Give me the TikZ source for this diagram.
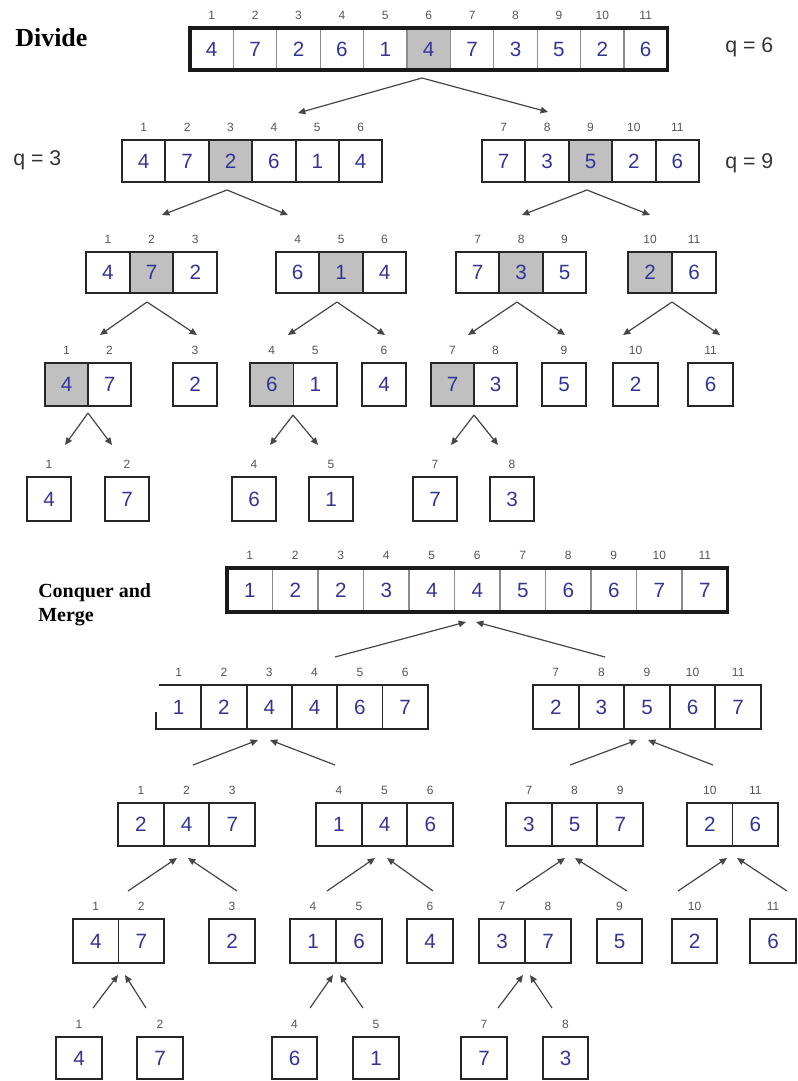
\documentclass[tikz,border=0pt]{standalone}
\usepackage{fontspec}
\setmainfont{Liberation Serif}
\newfontfamily\arial{Liberation Sans}
\usetikzlibrary{arrows.meta}
\definecolor{numblue}{RGB}{52,52,150}
\definecolor{idxgray}{RGB}{85,85,85}
\definecolor{shadegray}{RGB}{192,192,192}
\definecolor{linegray}{RGB}{70,70,70}
\tikzset{
  cellbase/.style={rectangle, inner sep=0pt, outer sep=0pt, font=\arial\fontsize{15.5}{16}\selectfont, text=numblue},
  cell/.style={cellbase, draw=black!85, line width=1.4pt},
  topcell/.style={cellbase, draw=black!45, line width=0.8pt},
  outline/.style={draw=black!90, line width=2.3pt},
  edge/.style={draw=black!85, line width=1.4pt},
  idx/.style={font=\arial\fontsize{9}{10}\selectfont, text=idxgray, inner sep=0pt},
  cpl/.style={}, csh/.style={fill=shadegray}, col/.style={draw=none},
  arr/.style={draw=linegray, line width=0.9pt, -{Triangle[length=5.5pt,width=4.8pt]}},
  title/.style={font=\bfseries\fontsize{19.5}{21}\selectfont, anchor=west, inner sep=0pt},
  titleb/.style={font=\bfseries\fontsize{15}{18}\selectfont, anchor=west, inner sep=0pt, align=left},
  qlab/.style={font=\arial\fontsize{16}{18}\selectfont, text=black!80, anchor=west, inner sep=0pt},
}
% #1 style, #2 name, #3 x left, #4 y top, #5 cell width, #6 height, #7 value/label/cellstyle list
\newcommand\cellrow[7]{%
  \foreach \v/\l/\f [count=\i] in {#7} {%
    \node[#1, \f, minimum width=#5*0.75pt, minimum height=#6*0.75pt] (#2-\i) at ({#3+(\i-0.5)*#5},{#4+#6/2}) {\v};
    \node[idx] (#2-n\i) at ({#3+(\i-0.5)*#5},{#4-13}) {\l};
  }}
% split arrows: name, apex, left tip, right tip
\newcommand\splitarr[4]{%
  \coordinate (#1-a) at (#2); \coordinate (#1-l) at (#3); \coordinate (#1-r) at (#4);
  \draw[arr] (#1-a) -- (#1-l); \draw[arr] (#1-a) -- (#1-r);}
% join arrows: name, start1, tip1, start2, tip2
\newcommand\joinarr[5]{%
  \coordinate (#1-s1) at (#2); \coordinate (#1-t1) at (#3);
  \coordinate (#1-s2) at (#4); \coordinate (#1-t2) at (#5);
  \draw[arr] (#1-s1) -- (#1-t1); \draw[arr] (#1-s2) -- (#1-t2);}
\begin{document}
\begin{tikzpicture}[x=0.75pt,y=-0.75pt]
\useasboundingbox (0,0) rectangle (798,1081);
% ---------- Divide ----------
\node[title] (divide) at (15,38) {Divide};
\node[qlab] (q6) at (725,47) {q = 6};
\node[qlab] (q3) at (13,160) {q = 3};
\node[qlab] (q9) at (725,163) {q = 9};

\cellrow{topcell}{d1}{190}{28}{43.4}{42}{4/1/cpl,7/2/cpl,2/3/cpl,6/4/cpl,1/5/cpl,4/6/csh,7/7/cpl,3/8/cpl,5/9/cpl,2/10/cpl,6/11/cpl}
\draw[outline] (d1-1.north west) rectangle (d1-11.south east);

\cellrow{cell}{d2a}{122}{140}{43.4}{42}{4/1/cpl,7/2/cpl,2/3/csh,6/4/cpl,1/5/cpl,4/6/cpl}
\cellrow{cell}{d2b}{482}{140}{43.4}{42}{7/7/cpl,3/8/cpl,5/9/csh,2/10/cpl,6/11/cpl}

\cellrow{cell}{d3a}{86}{252}{43.7}{41}{4/1/cpl,7/2/csh,2/3/cpl}
\cellrow{cell}{d3b}{276}{252}{43.4}{41}{6/4/cpl,1/5/csh,4/6/cpl}
\cellrow{cell}{d3c}{456}{252}{43.4}{41}{7/7/cpl,3/8/csh,5/9/cpl}
\cellrow{cell}{d3d}{628}{252}{44}{41}{2/10/csh,6/11/cpl}

\cellrow{cell}{d4a}{45}{363}{43}{43}{4/1/csh,7/2/cpl}
\cellrow{cell}{d4b}{173}{363}{44}{43}{2/3/cpl}
\cellrow{cell}{d4c}{250}{363}{43.5}{43}{6/4/csh,1/5/cpl}
\cellrow{cell}{d4d}{362}{363}{44}{43}{4/6/cpl}
\cellrow{cell}{d4e}{431}{363}{43}{43}{7/7/csh,3/8/cpl}
\cellrow{cell}{d4f}{542}{363}{44}{43}{5/9/cpl}
\cellrow{cell}{d4g}{613}{363}{45}{43}{2/10/cpl}
\cellrow{cell}{d4h}{688}{363}{45}{43}{6/11/cpl}

\cellrow{cell}{d5a}{27}{477}{44}{44}{4/1/cpl}
\cellrow{cell}{d5b}{105}{477}{44}{44}{7/2/cpl}
\cellrow{cell}{d5c}{232}{477}{44}{44}{6/4/cpl}
\cellrow{cell}{d5d}{309}{477}{44}{44}{1/5/cpl}
\cellrow{cell}{d5e}{413}{477}{44}{44}{7/7/cpl}
\cellrow{cell}{d5f}{490}{477}{44}{44}{3/8/cpl}

\splitarr{A1}{422,78}{298,113}{548,112}
\splitarr{A2L}{227,190}{162,215}{288,215}
\splitarr{A2R}{587,190}{522,215}{650,215}
\splitarr{A3a}{147,302}{100,335}{197,335}
\splitarr{A3b}{337,302}{288,335}{385,335}
\splitarr{A3c}{517,302}{468,335}{565,335}
\splitarr{A3d}{672,302}{623,335}{720,335}
\splitarr{A4a}{88,413}{65,445}{112,445}
\splitarr{A4b}{293,415}{270,445}{318,445}
\splitarr{A4c}{474,415}{451,445}{498,445}

% ---------- Conquer and Merge ----------
\node[titleb] (conquer) at (38,605) {Conquer and\\Merge};

\cellrow{topcell}{m1}{227}{568}{45.5}{44}{1/1/cpl,2/2/cpl,2/3/cpl,3/4/cpl,4/5/cpl,4/6/cpl,5/7/cpl,6/8/cpl,6/9/cpl,7/10/cpl,7/11/cpl}
\draw[outline] (m1-1.north west) rectangle (m1-11.south east);

\cellrow{cell}{m2a}{156}{685}{45.3}{44}{1/1/col,2/2/cpl,4/3/cpl,4/4/cpl,6/5/cpl,7/6/cpl}
\draw[edge] ([xshift=2pt]m2a-1.north west) -- (m2a-1.north east);
\draw[edge] ([yshift=12.75pt]m2a-1.south west) -- (m2a-1.south west) -- (m2a-1.south east);
\cellrow{cell}{m2b}{533}{685}{45.6}{44}{2/7/cpl,3/8/cpl,5/9/cpl,6/10/cpl,7/11/cpl}

\cellrow{cell}{m3a}{118}{803}{45.7}{43}{2/1/cpl,4/2/cpl,7/3/cpl}
\cellrow{cell}{m3b}{316}{803}{45.7}{43}{1/4/cpl,4/5/cpl,6/6/cpl}
\cellrow{cell}{m3c}{506}{803}{45.7}{43}{3/7/cpl,5/8/cpl,7/9/cpl}
\cellrow{cell}{m3d}{687}{803}{45.5}{43}{2/10/cpl,6/11/cpl}

\cellrow{cell}{m4a}{73}{919}{45.5}{44}{4/1/cpl,7/2/cpl}
\cellrow{cell}{m4b}{209}{919}{46}{44}{2/3/cpl}
\cellrow{cell}{m4c}{290}{919}{46}{44}{1/4/cpl,6/5/cpl}
\cellrow{cell}{m4d}{407}{919}{46}{44}{4/6/cpl}
\cellrow{cell}{m4e}{479}{919}{46}{44}{3/7/cpl,7/8/cpl}
\cellrow{cell}{m4f}{597}{919}{45}{44}{5/9/cpl}
\cellrow{cell}{m4g}{672}{919}{45}{44}{2/10/cpl}
\cellrow{cell}{m4h}{750}{919}{46}{44}{6/11/cpl}

\cellrow{cell}{m5a}{56}{1037}{46}{42}{4/1/cpl}
\cellrow{cell}{m5b}{137}{1037}{46}{42}{7/2/cpl}
\cellrow{cell}{m5c}{272}{1037}{45}{42}{6/4/cpl}
\cellrow{cell}{m5d}{353}{1037}{46}{42}{1/5/cpl}
\cellrow{cell}{m5e}{461}{1037}{46}{42}{7/7/cpl}
\cellrow{cell}{m5f}{543}{1037}{45}{42}{3/8/cpl}

\joinarr{M1}{335,657}{466,622}{605,657}{476,622}
\joinarr{M2a}{193,765}{258,740}{335,765}{270,740}
\joinarr{M2b}{570,765}{637,740}{713,765}{648,740}
\joinarr{M3a}{128,891}{177,858}{237,891}{188,858}
\joinarr{M3b}{327,891}{375,858}{433,891}{387,858}
\joinarr{M3c}{516,891}{565,858}{627,891}{575,858}
\joinarr{M3d}{678,891}{727,858}{787,891}{737,858}
\joinarr{M4a}{93,1008}{118,975}{146,1008}{125,975}
\joinarr{M4b}{310,1008}{333,975}{363,1008}{340,975}
\joinarr{M4c}{498,1008}{523,975}{552,1008}{530,975}
\end{tikzpicture}
\end{document}
